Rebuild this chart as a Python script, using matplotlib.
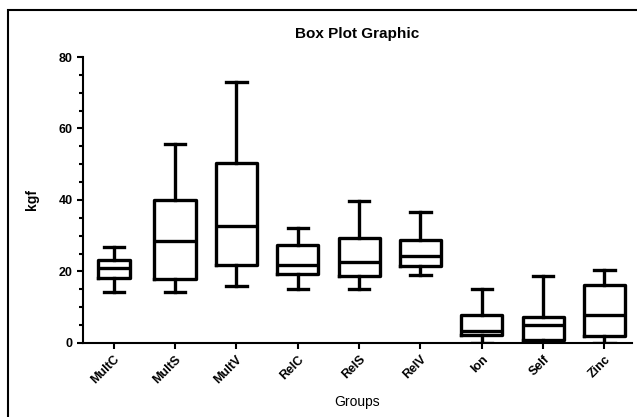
import matplotlib
matplotlib.use('Agg')
import matplotlib.pyplot as plt
from matplotlib.patches import Rectangle
from matplotlib.ticker import MultipleLocator

plt.rcParams['font.family'] = ['Liberation Sans', 'DejaVu Sans']

groups = ['MultC', 'MultS', 'MultV', 'RelC', 'RelS', 'RelV', 'Ion', 'Self', 'Zinc']
mins = [14.2, 14.2, 15.9, 15.1, 15.2, 19.1, 0.1, 0.1, 0.1]
q1 = [18.3, 17.8, 21.9, 19.3, 18.8, 21.5, 2.3, 0.8, 2.0]
medians = [20.9, 28.5, 32.6, 21.9, 22.7, 24.4, 3.4, 5.0, 7.7]
q3 = [23.2, 39.9, 50.4, 27.4, 29.4, 28.9, 7.7, 7.2, 16.2]
maxs = [26.9, 55.8, 73.1, 32.1, 39.6, 36.6, 15.0, 18.7, 20.5]

stats = []
for i in range(len(groups)):
    stats.append({'whislo': mins[i], 'q1': q1[i], 'med': medians[i],
                  'q3': q3[i], 'whishi': maxs[i], 'fliers': [],
                  'label': groups[i]})

fig = plt.figure(figsize=(6.37, 4.17), dpi=100)
ax = fig.add_axes([0.1303, 0.1775, 0.862, 0.6858])

lw = 2.4
widths = [0.52] + [0.67] * 8
ax.bxp(stats, positions=range(len(groups)), widths=widths, capwidths=0.33,
       showfliers=False,
       boxprops=dict(color='black', linewidth=lw),
       medianprops=dict(color='black', linewidth=lw),
       whiskerprops=dict(color='black', linewidth=lw),
       capprops=dict(color='black', linewidth=lw))

ax.set_xlim(-0.5, 8.45)
ax.set_ylim(0, 80)
ax.yaxis.set_major_locator(MultipleLocator(20))
ax.yaxis.set_minor_locator(MultipleLocator(5))
ax.spines['top'].set_visible(False)
ax.spines['right'].set_visible(False)
ax.spines['left'].set_linewidth(1.5)
ax.spines['bottom'].set_linewidth(1.5)
ax.tick_params(axis='both', width=1.5, length=4, labelsize=9)
ax.tick_params(axis='y', which='minor', width=1.5, length=3)
ax.set_xticks(range(len(groups)))
ax.set_xticklabels(groups, rotation=45, ha='right', rotation_mode='anchor',
                   fontweight='bold')
for t in ax.get_yticklabels():
    t.set_fontweight('bold')

ax.set_title('Box Plot Graphic', fontsize=11, fontweight='bold', pad=14)
ax.set_xlabel('Groups', fontsize=10, labelpad=6)
ax.set_ylabel('kgf', fontsize=10, fontweight='bold', labelpad=14)

# outer frame (top and left edges visible)
fig.patches.append(Rectangle((8 / 637, -0.1), 1.2, 1 - 10 / 417 + 0.1,
                             transform=fig.transFigure, fill=False,
                             edgecolor='black', linewidth=1.5))

fig.savefig('out.png', dpi=100)
